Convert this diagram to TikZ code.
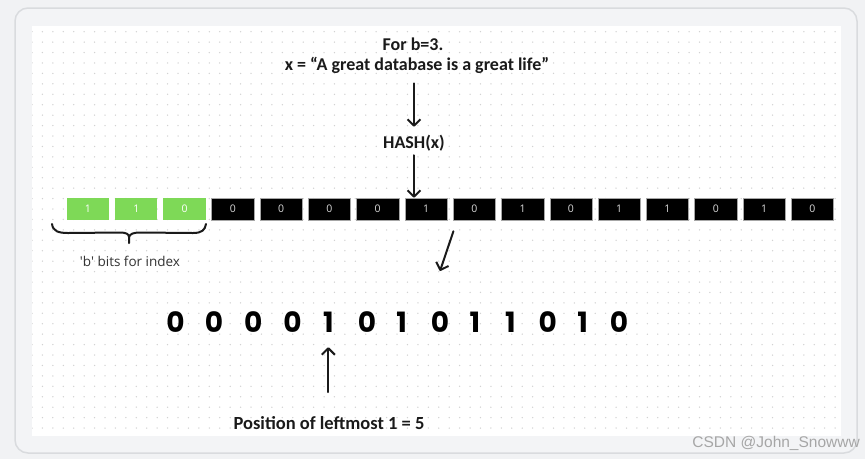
\documentclass[tikz,border=0pt]{standalone}
\usepackage{fontspec}
\usetikzlibrary{arrows.meta}
\newfontfamily\ttlfont{Carlito}
\newfontfamily\digfont{Poppins}
\newfontfamily\smfont{Open Sans}
\newfontfamily\wmfont{Liberation Sans}
\definecolor{bgc}{HTML}{F1F2F4}
\definecolor{panelc}{HTML}{F3F4F6}
\definecolor{borderc}{HTML}{D9DBDE}
\definecolor{dotc}{HTML}{D2D2D2}
\definecolor{grn}{HTML}{7ED957}
\definecolor{ink}{HTML}{1A1A1A}
\tikzset{
  ttl/.style={font=\ttlfont\bfseries\fontsize{18}{20}\selectfont, text=ink, inner sep=0pt},
  greenbox/.style={fill=grn, minimum width=42.3pt, minimum height=22pt, inner sep=0pt, text=white, font=\smfont\fontsize{10.5}{11}\selectfont},
  blackbox/.style={fill=black, draw=gray!70, line width=0.5pt, minimum width=42.3pt, minimum height=22pt, inner sep=0pt, text=white!85!black, font=\smfont\fontsize{10.5}{11}\selectfont},
  dig/.style={font=\digfont\bfseries\fontsize{28}{30}\selectfont, text=black, inner sep=0pt, text height=20pt, text depth=0pt},
  arr/.style={draw=ink, line width=2pt, line cap=round, -{Straight Barb[length=6.5pt,width=13pt,line join=round]}},
  hand/.style={draw=ink, line width=2pt, line cap=round, line join=round}
}
\begin{document}
\begin{tikzpicture}[x=1pt,y=-1pt]
\useasboundingbox (0,0) rectangle (865,459);
\fill[bgc] (0,0) rectangle (865,459);
\draw[borderc, fill=panelc, line width=1.5pt, rounded corners=13pt] (15,8) rectangle (857,453);
\fill[white] (32,26) rectangle (841,436);
\begin{scope}
\clip (32,26) rectangle (841,436);
\foreach \i in {0,...,77} {
  \foreach \j in {0,...,38} {
    \fill[dotc] (32+10.43*\i, 31.7+10.43*\j) circle (0.75pt);
  }
}
\end{scope}
% title texts
\node[ttl] (t1) at (413,44) {For b=3.};
\node[ttl] (t2) at (417,65) {x = “A great database is a great life”};
\node[ttl] (hash) at (414,143) {HASH(x)};
% boxes
\foreach \v [count=\k] in {1,1,0} {
  \node[greenbox] (b\k) at (88+48.29*\k-48.29, 209) {\v};
}
\foreach \v [count=\k from 4] in {0,0,0,0,1,0,1,0,1,1,0,1,0} {
  \node[blackbox] (b\k) at (88+48.29*\k-48.29, 209) {\v};
}
% arrows
\draw[arr, shorten <=10pt, shorten >=8pt] (t2.south -| hash.north) -- (hash.north);
\draw[arr, shorten <=4pt] (hash.south) -- (hash.south |- b8.north);
\path (b9.south west) ++(0.5,11) coordinate (d0);
\coordinate (d1) at (440,271);
\draw[arr] (d0) -- (d1);
% brace
\draw[hand] (52,224) .. controls (53,231) and (58,233) .. (68,233) -- (120,232.5)
  .. controls (126,232.5) and (129,234) .. (129,237) -- (129,243);
\draw[hand] (129,237) .. controls (130,234) and (133,232.5) .. (140,232.5) -- (193,233)
  .. controls (202,233) and (205,230) .. (206,224);
\node[font=\smfont\fontsize{13.5}{15}\selectfont, text=black!80, inner sep=0pt] (blab) at (130,261) {'b' bits for index};
% bottom digits
\foreach \v/\x [count=\k] in {0/175.5,0/214,0/253.3,0/292.5,1/328.3,0/367,1/401.7,0/440,1/475,1/510.5,0/547.7,1/582.7,0/619} {
  \node[dig] (n\k) at (\x, 322) {\v};
}
\node[ttl, font=\ttlfont\bfseries\fontsize{18.5}{20}\selectfont] (pos) at (329,423) {Position of leftmost 1 = 5};
\draw[arr, shorten <=24pt, shorten >=15pt] (pos.north -| n5.south) -- (n5.south);
% watermark
\node[font=\wmfont\fontsize{15.5}{17}\selectfont, text=black!35, anchor=east, inner sep=0pt] (wm) at (860,443) {CSDN @John\_Snowww};
\end{tikzpicture}
\end{document}
